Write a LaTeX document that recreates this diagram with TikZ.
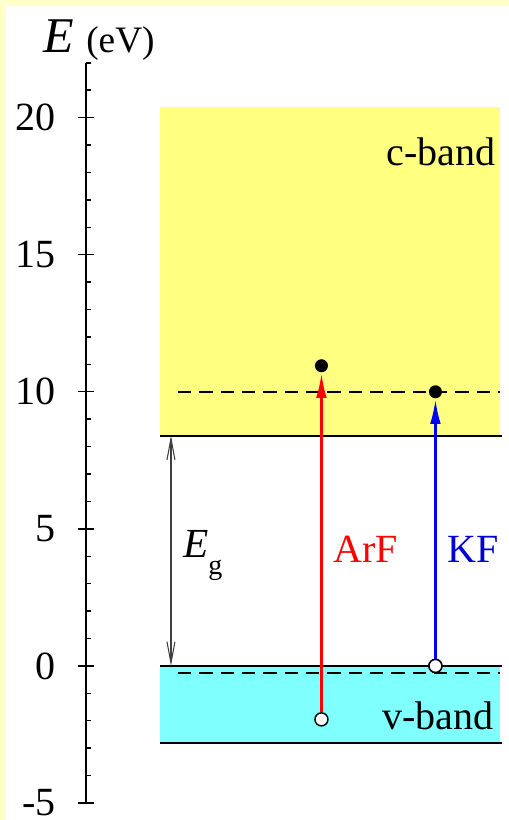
\documentclass[tikz,border=0pt]{standalone}
\usepackage{fontspec}
\setmainfont{Liberation Serif}
\usetikzlibrary{arrows.meta}

\definecolor{cband}{RGB}{255,255,128}
\definecolor{vband}{RGB}{128,255,255}
\definecolor{paper}{RGB}{255,255,204}
\definecolor{kfblue}{RGB}{0,0,210}

\begin{document}
\begin{tikzpicture}[
  x=0.75pt, y=20.565pt,
  every node/.style={inner sep=0pt, font=\fontsize{30}{36}\selectfont},
  axisline/.style={line width=1.1pt},
  edgeline/.style={line width=1.5pt},
  level/.style={line width=1.5pt, dash pattern=on 10pt off 6pt},
  full/.style={circle, fill=black, minimum size=9.75pt},
  hole/.style={circle, draw=black, fill=white, line width=1.1pt, minimum size=9.75pt},
  photon/.style={line width=2.2pt, -{Latex[length=19pt,width=8pt]}},
  gap/.style={line width=0.8pt, black!75,
    {Straight Barb[length=16pt,width=6pt]}-{Straight Barb[length=16pt,width=6pt]}}
  ]

\useasboundingbox (0,-5.62) rectangle (509,24.29);
\fill[paper] (0,-5.62) rectangle (509,24.29);
\fill[white] (6,-5.62) rectangle (509,24.07);

% bands
\fill[cband] (160,8.4) rectangle (500,20.4);
\fill[vband] (160,-2.8) rectangle (500,0);
\draw[edgeline] (160,8.4) -- (502,8.4);
\draw[edgeline] (160,0) -- (502,0);
\draw[edgeline] (160,-2.8) -- (502,-2.8);
\draw[level] (178,10) -- (500,10);
\draw[level] (178,-0.25) -- (500,-0.25);

% energy axis
\draw[axisline] (86,-5) -- (86,22);
\foreach \e in {-5,...,22}
  \draw[axisline] (86,\e) -- (91,\e);
\foreach \e in {-5,0,...,20} {
  \draw[axisline] (78,\e) -- (94,\e);
  \node[anchor=east] (lab\e) at (56,\e) {\e};
}
\node[anchor=base west] (unit) at (43,22.36)
  {\fontsize{37.5}{44}\selectfont\textit{E} \fontsize{28}{32}\selectfont(eV)};

% band gap
\coordinate (cbedge) at (171,8.4);
\coordinate (vbedge) at (171,0);
\draw[gap] (cbedge) -- (vbedge);
\node[anchor=base west] (eg) at (183,3.94)
  {\fontsize{31}{36}\selectfont\textit{E}\raisebox{-12.75pt}{\fontsize{21}{24}\selectfont g}};

% transitions
\node[full] (arftop) at (321.5,10.95) {};
\node[hole] (arfbot) at (321.5,-1.95) {};
\node[full] (kftop) at (435.5,10) {};
\node[hole] (kfbot) at (435.5,0) {};
\draw[photon, red] (arfbot) -- (arftop);
\draw[photon, blue] (kfbot) -- (kftop);
\node[hole] at (kfbot) {};

\node[anchor=base west, red] (arf) at (333,3.76) {ArF};
\node[anchor=base west, kfblue] (kf) at (447,3.76) {KF};
\node[anchor=base east] (cb) at (496,18.24) {c-band};
\node[anchor=base east] (vb) at (494,-2.33) {v-band};

\end{tikzpicture}
\end{document}
